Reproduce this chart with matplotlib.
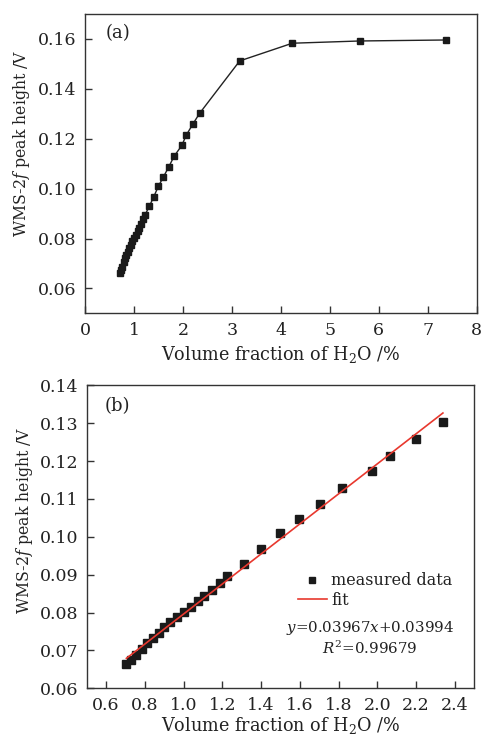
import numpy as np
import matplotlib.pyplot as plt

# measured WMS-2f peak heights vs H2O volume fraction (%)
h2o_low = [0.705, 0.729, 0.755, 0.784, 0.812, 0.841, 0.871, 0.900, 0.931,
           0.965, 1.000, 1.036, 1.072, 1.107, 1.146, 1.186, 1.226, 1.310,
           1.402, 1.497, 1.598, 1.705, 1.817, 1.974, 2.064, 2.197, 2.338]
peak_low = [0.0663, 0.0674, 0.0687, 0.0705, 0.0720, 0.0733, 0.0747, 0.0761,
            0.0774, 0.0789, 0.0801, 0.0815, 0.0830, 0.0843, 0.0860, 0.0879,
            0.0896, 0.0929, 0.0968, 0.1010, 0.1047, 0.1086, 0.1130, 0.1173,
            0.1214, 0.1258, 0.1302]
h2o_high = [3.157, 4.232, 5.61, 7.376]
peak_high = [0.1512, 0.1583, 0.1592, 0.1596]

# linear fit over the low concentration range
slope = 0.03967
intercept = 0.03994
r2 = 0.99679

plt.rcParams['font.family'] = 'DejaVu Serif'
plt.rcParams['font.size'] = 12.5
plt.rcParams['mathtext.fontset'] = 'dejavuserif'
plt.rcParams['text.color'] = '#222222'
plt.rcParams['axes.labelcolor'] = '#222222'
plt.rcParams['xtick.color'] = '#333333'
plt.rcParams['ytick.color'] = '#333333'
plt.rcParams['xtick.labelcolor'] = '#222222'
plt.rcParams['ytick.labelcolor'] = '#222222'

fig = plt.figure(figsize=(4.84, 7.39), dpi=100)
ax1 = fig.add_axes([0.176, 0.576, 0.809, 0.405])
ax2 = fig.add_axes([0.179, 0.0686, 0.801, 0.410])

ylab = 'WMS-2$\\mathit{f}$ peak height /V'
xlab = 'Volume fraction of H$_2$O /%'

for ax in (ax1, ax2):
    for s in ax.spines.values():
        s.set_color('#333333')
        s.set_linewidth(1.0)
    ax.tick_params(direction='in', length=5, width=1.0, top=False, right=False,
                   pad=6, labelsize=12.5)

# (a) full range
x_all = h2o_low + h2o_high
y_all = peak_low + peak_high
ax1.plot(x_all, y_all, '-', color='#222222', lw=1.0, marker='s',
         markersize=4.8, markerfacecolor='#1a1a1a', markeredgecolor='#1a1a1a')
ax1.set_xlim(0, 8)
ax1.set_ylim(0.05, 0.17)
ax1.set_xticks(np.arange(0, 9, 1))
ax1.set_yticks(np.arange(0.06, 0.161, 0.02))
ax1.yaxis.set_major_formatter(plt.FormatStrFormatter('%.2f'))
ax1.set_xlabel(xlab, fontsize=12.7, labelpad=4)
ax1.set_ylabel(ylab, fontsize=11.3)
ax1.yaxis.set_label_coords(-0.136, 0.569)
ax1.text(0.053, 0.965, '(a)', transform=ax1.transAxes, ha='left', va='top', fontsize=13)

# (b) low range with linear fit
xf = np.array([h2o_low[0], h2o_low[-1]])
ax2.plot(h2o_low, peak_low, 's', color='#1a1a1a', markersize=5.2,
         label='measured data')
ax2.plot(xf, slope * xf + intercept, '-', color='#e8382e', lw=1.2, label='fit')
ax2.set_xlim(0.5, 2.5)
ax2.set_ylim(0.06, 0.14)
ax2.set_xticks(np.arange(0.6, 2.41, 0.2))
ax2.set_yticks(np.arange(0.06, 0.141, 0.01))
ax2.xaxis.set_major_formatter(plt.FormatStrFormatter('%.1f'))
ax2.yaxis.set_major_formatter(plt.FormatStrFormatter('%.2f'))
ax2.set_xlabel(xlab, fontsize=12.7, labelpad=1)
ax2.set_ylabel(ylab, fontsize=11.3)
ax2.yaxis.set_label_coords(-0.133, 0.555)
ax2.text(0.047, 0.962, '(b)', transform=ax2.transAxes, ha='left', va='top', fontsize=13)

ax2.legend(loc='upper left', bbox_to_anchor=(0.545, 0.383), frameon=False,
           fontsize=11.5, handlelength=1.8, handletextpad=0.3, labelspacing=0.15,
           borderpad=0, borderaxespad=0, markerscale=0.85)
ax2.text(0.731, 0.199, '$y$=%.5f$x$+%.5f' % (slope, intercept),
         transform=ax2.transAxes, ha='center', va='center', fontsize=10.8)
ax2.text(0.731, 0.133, '$R^2$=%.5f' % r2,
         transform=ax2.transAxes, ha='center', va='center', fontsize=10.8)

fig.savefig('out.png', dpi=100)
